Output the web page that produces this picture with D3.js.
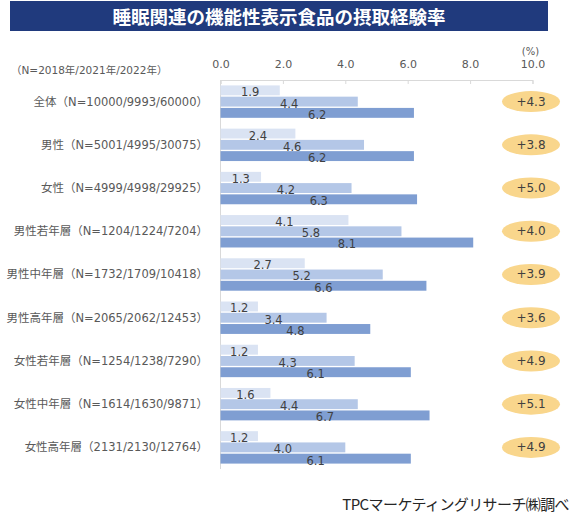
<!DOCTYPE html>
<html>
<head>
<meta charset="utf-8">
<script src="https://cdn.jsdelivr.net/npm/d3@7"></script>
<style>
    body { margin: 0; background: #fff; }
    #chart { width: 580px; height: 523px; }
</style>
</head>
<body>
<div id="chart"></div>
<script>
const categories = [
    "全体（N=10000/9993/60000）",
    "男性（N=5001/4995/30075）",
    "女性（N=4999/4998/29925）",
    "男性若年層（N=1204/1224/7204）",
    "男性中年層（N=1732/1709/10418）",
    "男性高年層（N=2065/2062/12453）",
    "女性若年層（N=1254/1238/7290）",
    "女性中年層（N=1614/1630/9871）",
    "女性高年層（2131/2130/12764）"
];
const years = ["2018", "2021", "2022"];
const values2018 = [1.9, 2.4, 1.3, 4.1, 2.7, 1.2, 1.2, 1.6, 1.2];
const values2021 = [4.4, 4.6, 4.2, 5.8, 5.2, 3.4, 4.3, 4.4, 4.0];
const values2022 = [6.2, 6.2, 6.3, 8.1, 6.6, 4.8, 6.1, 6.7, 6.1];
const diffLabels = ["+4.3", "+3.8", "+5.0", "+4.0", "+3.9", "+3.6", "+4.9", "+5.1", "+4.9"];
const tickValues = [0, 2, 4, 6, 8, 10];

const width = 580;
const height = 523;
const plotLeft = 220.5;
const plotRight = 532.5;
const plotTop = 80;
const plotBottom = 469;
const colors = ["#DAE3F3", "#B4C7E7", "#7F9ED2"];
const font = "'DejaVu Sans', 'Noto Sans CJK JP', sans-serif";

const data = categories.map((c, i) => ({
    cat: c,
    vals: [values2018[i], values2021[i], values2022[i]],
    diff: diffLabels[i]
}));

const svg = d3.select("#chart")
              .append("svg")
              .attr("width", width)
              .attr("height", height)
              .style("font-family", font);

// title banner
svg.append("rect")
   .attr("x", 10)
   .attr("y", 1)
   .attr("width", 538)
   .attr("height", 30)
   .attr("fill", "#203A7D");

svg.append("text")
   .attr("x", 279)
   .attr("y", 16)
   .attr("text-anchor", "middle")
   .attr("dominant-baseline", "central")
   .attr("fill", "#fff")
   .attr("font-family", "'Noto Sans CJK JP', sans-serif")
   .attr("font-weight", "bold")
   .attr("font-size", "18.5px")
   .text("睡眠関連の機能性表示食品の摂取経験率");

const xScale = d3.scaleLinear()
                 .domain([0, 10])
                 .range([plotLeft, plotRight]);
const yScale = d3.scaleBand()
                 .domain(categories)
                 .range([plotTop, plotBottom])
                 .paddingInner(0.25)
                 .paddingOuter(0.125);
const inner = d3.scaleBand()
                .domain(years)
                .range([0, yScale.bandwidth()])
                .paddingInner(0.12);

// axis on top
const xAxis = d3.axisTop(xScale)
                .tickValues(tickValues)
                .tickSize(-4)
                .tickPadding(0)
                .tickFormat(d3.format(".1f"));

const ax = svg.append("g")
              .attr("transform", "translate(0," + plotTop + ")")
              .call(xAxis);
ax.select(".domain").attr("stroke", "#D9D9D9");
ax.selectAll(".tick line").attr("stroke", "#D9D9D9");
ax.selectAll(".tick text")
  .attr("y", -12)
  .attr("fill", "#595959")
  .attr("font-size", "11px")
  .attr("font-family", font);

svg.append("line")
   .attr("x1", plotLeft)
   .attr("x2", plotLeft)
   .attr("y1", plotTop)
   .attr("y2", plotBottom)
   .attr("stroke", "#D9D9D9");

svg.append("text")
   .attr("x", xScale(10) - 2)
   .attr("y", 51)
   .attr("text-anchor", "middle")
   .attr("dominant-baseline", "central")
   .attr("fill", "#595959")
   .attr("font-size", "10px")
   .text("(%)");

svg.append("text")
   .attr("x", 11)
   .attr("y", 70)
   .attr("dominant-baseline", "central")
   .attr("fill", "#595959")
   .attr("font-size", "10.5px")
   .text("（N=2018年/2021年/2022年）");

// groups
const groups = svg.selectAll(".group")
                  .data(data)
                  .enter()
                  .append("g")
                  .attr("class", "group")
                  .attr("transform", (d) => "translate(0," + yScale(d.cat) + ")");

groups.append("text")
      .attr("x", 208)
      .attr("y", yScale.bandwidth() / 2)
      .attr("text-anchor", "end")
      .attr("dominant-baseline", "central")
      .attr("fill", "#595959")
      .attr("font-size", "11.5px")
      .text((d) => d.cat);

groups.selectAll("rect")
      .data((d) => d.vals.map((v, i) => ({ year: years[i], v: v, i: i })))
      .enter()
      .append("rect")
      .attr("x", xScale(0))
      .attr("y", (d) => inner(d.year))
      .attr("width", (d) => xScale(d.v) - xScale(0))
      .attr("height", inner.bandwidth())
      .attr("fill", (d) => colors[d.i]);

groups.selectAll(".val")
      .data((d) => d.vals.map((v, i) => ({ year: years[i], v: v })))
      .enter()
      .append("text")
      .attr("class", "val")
      .attr("x", (d) => (xScale(0) + xScale(d.v)) / 2)
      .attr("y", (d) => inner(d.year) + inner.bandwidth() + 1)
      .attr("text-anchor", "middle")
      .attr("fill", "#404040")
      .attr("font-size", "11.5px")
      .text((d) => d.v.toFixed(1));

groups.append("ellipse")
      .attr("cx", 531)
      .attr("cy", yScale.bandwidth() / 2)
      .attr("rx", 29)
      .attr("ry", 10.5)
      .attr("fill", "#F9D68C");

groups.append("text")
      .attr("x", 531)
      .attr("y", yScale.bandwidth() / 2)
      .attr("text-anchor", "middle")
      .attr("dominant-baseline", "central")
      .attr("fill", "#404040")
      .attr("font-size", "12px")
      .text((d) => d.diff);

svg.append("text")
   .attr("x", 569)
   .attr("y", 503)
   .attr("text-anchor", "end")
   .attr("dominant-baseline", "central")
   .attr("fill", "#262626")
   .attr("font-family", "'Noto Sans CJK JP', sans-serif")
   .attr("font-size", "15px")
   .attr("letter-spacing", "-0.6px")
   .text("TPCマーケティングリサーチ㈱調べ");
</script>
</body>
</html>
